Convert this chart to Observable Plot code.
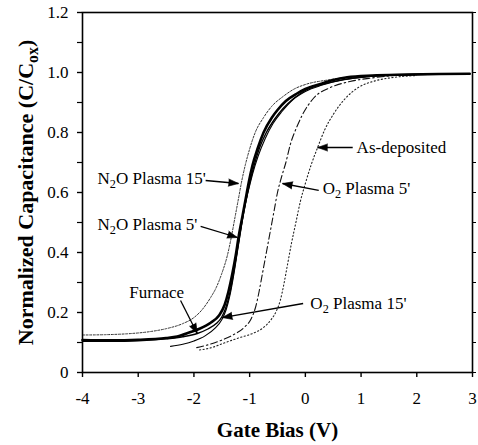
<!DOCTYPE html>
<html>
<head>
<meta charset="utf-8">
<script src="https://cdn.jsdelivr.net/npm/d3@7"></script>
<script src="https://cdn.jsdelivr.net/npm/@observablehq/plot@0.6"></script>
<style>
  body { margin: 0; background: #fff; }
  #chart svg { display: block; }
</style>
</head>
<body>
<div id="chart"></div>
<script>
// C–V sweeps, normalized capacitance C/Cox against gate bias (V)
const n2o15Bias = [-4, -3.6, -3.2, -2.8, -2.5, -2.2, -2.0, -1.85, -1.7, -1.6, -1.5, -1.4, -1.33, -1.27, -1.2, -1.14, -1.08, -1.0, -0.9, -0.75, -0.6, -0.4, -0.2, 0, 0.4, 0.8, 1.2, 1.6];
const n2o15Cap  = [0.125, 0.126, 0.129, 0.136, 0.146, 0.163, 0.183, 0.21, 0.25, 0.283, 0.33, 0.39, 0.45, 0.51, 0.58, 0.64, 0.69, 0.745, 0.8, 0.85, 0.888, 0.92, 0.945, 0.96, 0.975, 0.985, 0.99, 0.993];

const n2o5Bias = [-4, -3.5, -3, -2.5, -2.3, -2.06, -1.9, -1.7, -1.55, -1.45, -1.38, -1.31, -1.25, -1.2, -1.13, -1.07, -1.015, -0.95, -0.86, -0.75, -0.6, -0.5, -0.35, -0.15, 0, 0.27, 0.5, 0.75, 1.2, 1.8, 2.4, 2.95];
const n2o5Cap  = [0.108, 0.107, 0.109, 0.115, 0.12, 0.135, 0.146, 0.166, 0.19, 0.225, 0.27, 0.33, 0.39, 0.45, 0.52, 0.58, 0.635, 0.69, 0.745, 0.8, 0.85, 0.875, 0.905, 0.93, 0.945, 0.962, 0.975, 0.984, 0.99, 0.993, 0.995, 0.996];

const furnaceBias = [-4, -3.5, -3, -2.5, -2.2, -1.94, -1.75, -1.6, -1.5, -1.42, -1.35, -1.28, -1.21, -1.14, -1.07, -1.0, -0.92, -0.82, -0.7, -0.55, -0.4, -0.2, 0, 0.3, 0.7, 1.1, 1.6, 2.2, 2.95];
const furnaceCap  = [0.104, 0.104, 0.106, 0.112, 0.119, 0.13, 0.145, 0.163, 0.185, 0.22, 0.27, 0.34, 0.42, 0.5, 0.57, 0.63, 0.69, 0.75, 0.8, 0.845, 0.88, 0.915, 0.94, 0.96, 0.977, 0.986, 0.991, 0.994, 0.995];

const o215Bias = [-2.42, -2.2, -2.0, -1.8, -1.62, -1.5, -1.42, -1.35, -1.29, -1.23, -1.17, -1.1, -1.03, -0.95, -0.85, -0.72, -0.58, -0.42, -0.22, 0, 0.3, 0.7, 1.1, 1.6, 2.2, 2.95];
const o215Cap  = [0.087, 0.094, 0.105, 0.122, 0.148, 0.176, 0.21, 0.26, 0.32, 0.39, 0.46, 0.54, 0.6, 0.66, 0.72, 0.78, 0.83, 0.87, 0.91, 0.937, 0.958, 0.976, 0.986, 0.991, 0.994, 0.995];

const o25Bias = [-1.95, -1.75, -1.5, -1.3, -1.1, -0.97, -0.89, -0.83, -0.78, -0.73, -0.68, -0.62, -0.56, -0.5, -0.43, -0.35, -0.27, -0.15, -0.05, 0.15, 0.45, 0.8, 1.2, 1.6, 2.0];
const o25Cap  = [0.083, 0.092, 0.108, 0.125, 0.15, 0.18, 0.22, 0.27, 0.32, 0.37, 0.42, 0.48, 0.54, 0.6, 0.65, 0.7, 0.76, 0.82, 0.86, 0.915, 0.95, 0.97, 0.982, 0.99, 0.993];

const asDepBias = [-1.9, -1.7, -1.46, -1.2, -0.95, -0.75, -0.62, -0.52, -0.45, -0.39, -0.32, -0.25, -0.17, -0.09, 0.0, 0.1, 0.22, 0.35, 0.5, 0.7, 0.95, 1.25, 1.6, 2.0];
const asDepCap  = [0.075, 0.082, 0.098, 0.115, 0.13, 0.15, 0.175, 0.205, 0.24, 0.29, 0.36, 0.43, 0.5, 0.57, 0.63, 0.69, 0.75, 0.81, 0.86, 0.91, 0.95, 0.972, 0.984, 0.99];

// Axis ticks
const xTicks = [-4, -3, -2, -1, 0, 1, 2, 3];
const yTicks = [0, 0.2, 0.4, 0.6, 0.8, 1.0, 1.2];
const yMinorTicks = [0, 0.1, 0.2, 0.3, 0.4, 0.5, 0.6, 0.7, 0.8, 0.9, 1.0, 1.1, 1.2];

// Callout labels and the arrows pointing at each curve
const labelText = ["N₂O Plasma 15'", "N₂O Plasma 5'", "Furnace", "O₂ Plasma 15'", "O₂ Plasma 5'", "As-deposited"];
const labelBias = [-3.73, -3.73, -3.16, 0.09, 0.31, 0.92];
const labelCap  = [0.647, 0.493, 0.265, 0.231, 0.613, 0.751];
const arrowFromBias = [-1.79, -1.88, -2.24, -0.04, 0.24, 0.85];
const arrowFromCap  = [0.64, 0.487, 0.24, 0.23, 0.607, 0.75];
const arrowToBias   = [-1.2, -1.22, -1.94, -1.49, -0.41, 0.22];
const arrowToCap    = [0.63, 0.45, 0.13, 0.183, 0.63, 0.75];

const xTitle = "Gate Bias (V)";
const yTitle = "Normalized Capacitance (C/Cₒₓ)";

// Layout
const W = 478, H = 445;
const mL = 82, mR = 6, mT = 12, mB = 73;
const xDomain = [-4, 3], yDomain = [0, 1.2];

const toRows = (bias, cap) => bias.map((x, i) => ({x, y: cap[i]}));

const curveStyles = [
  {rows: toRows(n2o15Bias, n2o15Cap), stroke: "#333", strokeWidth: 1, strokeDasharray: "2,1.6"},
  {rows: toRows(asDepBias, asDepCap), stroke: "#222", strokeWidth: 1.1, strokeDasharray: "1.2,2.4"},
  {rows: toRows(o25Bias, o25Cap), stroke: "#111", strokeWidth: 1.1, strokeDasharray: "7,3,1.5,3"},
  {rows: toRows(o215Bias, o215Cap), stroke: "#000", strokeWidth: 1.1, strokeDasharray: null},
  {rows: toRows(furnaceBias, furnaceCap), stroke: "#000", strokeWidth: 1.4, strokeDasharray: null},
  {rows: toRows(n2o5Bias, n2o5Cap), stroke: "#000", strokeWidth: 2.6, strokeDasharray: null}
];

const arrows = labelText.map((t, i) => ({
  x1: arrowFromBias[i], y1: arrowFromCap[i],
  x2: arrowToBias[i], y2: arrowToCap[i]
}));
const labels = labelText.map((t, i) => ({text: t, x: labelBias[i], y: labelCap[i]}));

// pixel-per-unit factors, used to orient the arrowheads on screen
const kx = (W - mL - mR) / (xDomain[1] - xDomain[0]);
const ky = (H - mT - mB) / (yDomain[1] - yDomain[0]);
const headAngle = d => Math.atan2((d.x2 - d.x1) * kx, (d.y2 - d.y1) * ky) * 180 / Math.PI;

const serif = "'Liberation Serif', 'Times New Roman', serif";

const chart = Plot.plot({
  width: W,
  height: H,
  marginLeft: mL,
  marginRight: mR,
  marginTop: mT,
  marginBottom: mB,
  style: {fontFamily: serif, fontSize: "17px", color: "#000", background: "#fff"},
  x: {domain: xDomain},
  y: {domain: yDomain},
  marks: [
    ...curveStyles.map(s => Plot.line(s.rows, {
      x: "x", y: "y", curve: "monotone-x",
      stroke: s.stroke, strokeWidth: s.strokeWidth,
      strokeDasharray: s.strokeDasharray, strokeLinejoin: "round"
    })),
    Plot.frame({stroke: "#000", strokeWidth: 1.6}),
    Plot.axisX(xTicks, {
      tickSize: 5, tickPadding: 14, tickFormat: d => String(d),
      fontSize: 17, strokeWidth: 1.4, label: null
    }),
    Plot.axisY(yMinorTicks, {tickSize: 5, tickFormat: () => "", strokeWidth: 1.2, label: null}),
    Plot.axisY(yTicks, {
      tickSize: 5, tickPadding: 9, strokeWidth: 1.2,
      tickFormat: d => d === 0 ? "0" : d.toFixed(1), fontSize: 17, label: null
    }),
    Plot.axisY(yMinorTicks, {anchor: "right", tickSize: 3, tickFormat: () => "", strokeWidth: 1, label: null}),
    Plot.link(arrows, {x1: "x1", y1: "y1", x2: "x2", y2: "y2", stroke: "#000", strokeWidth: 1.3}),
    Plot.vector(arrows, {
      x: "x2", y: "y2", rotate: headAngle, length: 10, r: 3.6,
      shape: "spike", anchor: "end", fill: "#000", stroke: "#000", strokeWidth: 0.6
    }),
    Plot.text(labels, {
      x: "x", y: "y", text: "text", textAnchor: "start",
      fontSize: 17, fill: "#000"
    }),
    Plot.text([xTitle], {
      frameAnchor: "bottom", dy: 58, text: d => d,
      textAnchor: "middle", lineAnchor: "middle",
      fontSize: 21, fontWeight: "bold", fill: "#000"
    }),
    Plot.text([yTitle], {
      frameAnchor: "left", dx: -57, rotate: -90, text: d => d,
      textAnchor: "middle", lineAnchor: "middle",
      fontSize: 22, fontWeight: "bold", fill: "#000"
    })
  ]
});

// Render subscript characters as shifted, smaller tspans
const SUB = {"₂": "2", "ₒ": "o", "ₓ": "x"};
function subscriptify(svg) {
  const walker = document.createTreeWalker(svg, NodeFilter.SHOW_TEXT);
  const nodes = [];
  while (walker.nextNode()) nodes.push(walker.currentNode);
  for (const node of nodes) {
    const chars = [...node.nodeValue];
    if (!chars.some(c => c in SUB)) continue;
    const frag = document.createDocumentFragment();
    let buf = "", inSub = false;
    const flush = () => {
      if (!buf) return;
      if (inSub) {
        const t = document.createElementNS("http://www.w3.org/2000/svg", "tspan");
        t.setAttribute("baseline-shift", "-0.3em");
        t.setAttribute("style", "font-size:72%");
        t.textContent = buf;
        frag.appendChild(t);
      } else {
        frag.appendChild(document.createTextNode(buf));
      }
      buf = "";
    };
    for (const c of chars) {
      const s = c in SUB;
      if (s !== inSub) { flush(); inSub = s; }
      buf += s ? SUB[c] : c;
    }
    flush();
    node.parentNode.replaceChild(frag, node);
  }
}
subscriptify(chart);

document.getElementById("chart").appendChild(chart);
</script>
</body>
</html>
